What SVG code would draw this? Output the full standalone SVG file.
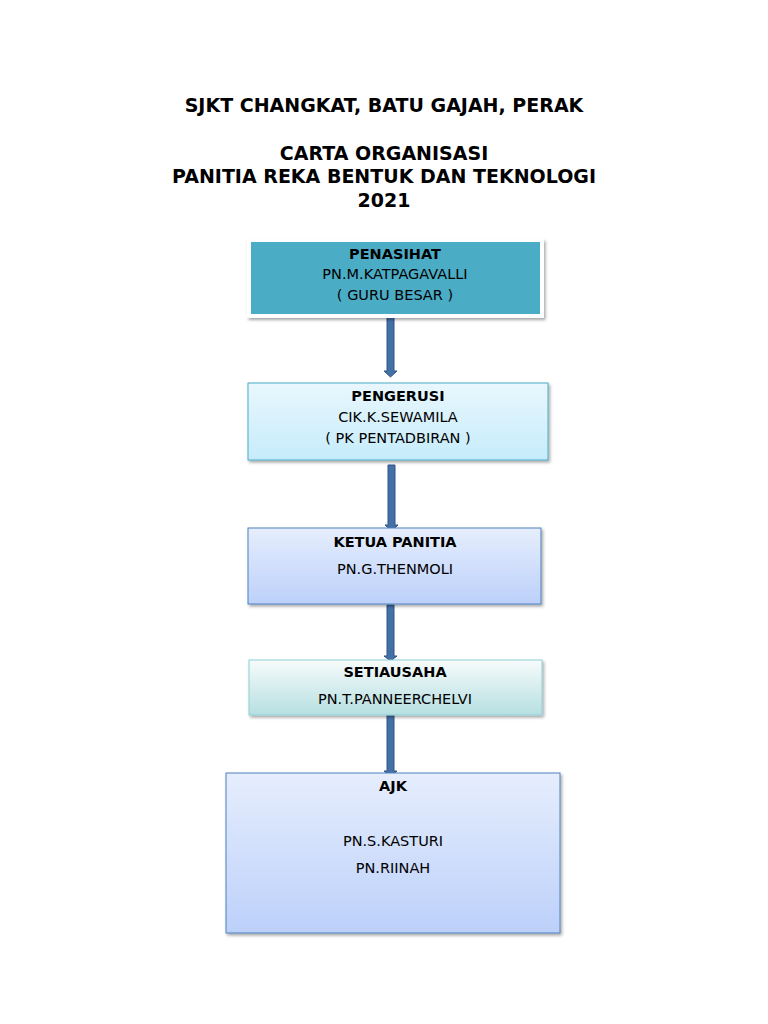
<svg xmlns="http://www.w3.org/2000/svg" width="768" height="1024" viewBox="0 0 768 1024">
<style>
text{font-family:"DejaVu Sans",sans-serif;text-anchor:middle;fill:#000}
.t{font-size:19px;font-weight:bold}
.h{font-size:14.5px;font-weight:bold}
.n{font-size:14.5px}
.arr{fill:#4470a8;stroke:#2f5485;stroke-width:1}
</style>
<defs>
<linearGradient id="g2" x1="0" y1="0" x2="0" y2="1"><stop offset="0" stop-color="#e9f7fd"/><stop offset="1" stop-color="#c6ecfb"/></linearGradient>
<linearGradient id="g3" x1="0" y1="0" x2="0" y2="1"><stop offset="0" stop-color="#e6eefd"/><stop offset="1" stop-color="#bcd0fa"/></linearGradient>
<linearGradient id="g4" x1="0" y1="0" x2="0" y2="1"><stop offset="0" stop-color="#f7fbfb"/><stop offset="1" stop-color="#b6dfe2"/></linearGradient>
<filter id="sh" x="-5%" y="-5%" width="112%" height="120%"><feDropShadow dx="1.5" dy="2" stdDeviation="1.5" flood-color="#000" flood-opacity="0.35"/></filter>
</defs>
<text class="t" x="384" y="112">SJKT CHANGKAT, BATU GAJAH, PERAK</text>
<text class="t" x="384" y="160">CARTA ORGANISASI</text>
<text class="t" x="384" y="183">PANITIA REKA BENTUK DAN TEKNOLOGI</text>
<text class="t" x="384" y="207">2021</text>
<g id="connectors">
<path class="arr" d="M387,312h7v59h3l-6.5,6l-6.5,-6h3z"/>
<path class="arr" d="M388,465h7v60h3l-6.5,6l-6.5,-6h3z"/>
<path class="arr" d="M387,605h7v51h3l-6.5,5l-6.5,-5h3z"/>
<path class="arr" d="M387,713h7v58h3l-6.5,6l-6.5,-6h3z"/>
</g>
<g id="penasihat">
<rect x="247" y="239" width="297" height="79" fill="#fff" filter="url(#sh)"/>
<rect x="251" y="242" width="289" height="72" fill="#4bacc6"/>
<text class="h" x="395" y="259">PENASIHAT</text>
<text class="n" x="395" y="279">PN.M.KATPAGAVALLI</text>
<text class="n" x="395" y="300">( GURU BESAR )</text>
</g>
<g id="pengerusi">
<rect x="248" y="383" width="300" height="77" fill="url(#g2)" stroke="#4bacc6" filter="url(#sh)"/>
<text class="h" x="398" y="401">PENGERUSI</text>
<text class="n" x="398" y="422">CIK.K.SEWAMILA</text>
<text class="n" x="398" y="443">( PK  PENTADBIRAN )</text>
</g>
<g id="ketua">
<rect x="248" y="528" width="293" height="76" fill="url(#g3)" stroke="#4f81bd" filter="url(#sh)"/>
<text class="h" x="395" y="547">KETUA PANITIA</text>
<text class="n" x="395" y="574">PN.G.THENMOLI</text>
</g>
<g id="setiausaha">
<rect x="249" y="660" width="293" height="55" fill="url(#g4)" stroke="#8fcfd6" filter="url(#sh)"/>
<text class="h" x="395" y="677">SETIAUSAHA</text>
<text class="n" x="395" y="704">PN.T.PANNEERCHELVI</text>
</g>
<g id="ajk">
<rect x="226" y="773" width="334" height="160" fill="url(#g3)" stroke="#4f81bd" filter="url(#sh)"/>
<text class="h" x="393" y="791">AJK</text>
<text class="n" x="393" y="846">PN.S.KASTURI</text>
<text class="n" x="393" y="873">PN.RIINAH</text>
</g>
</svg>
